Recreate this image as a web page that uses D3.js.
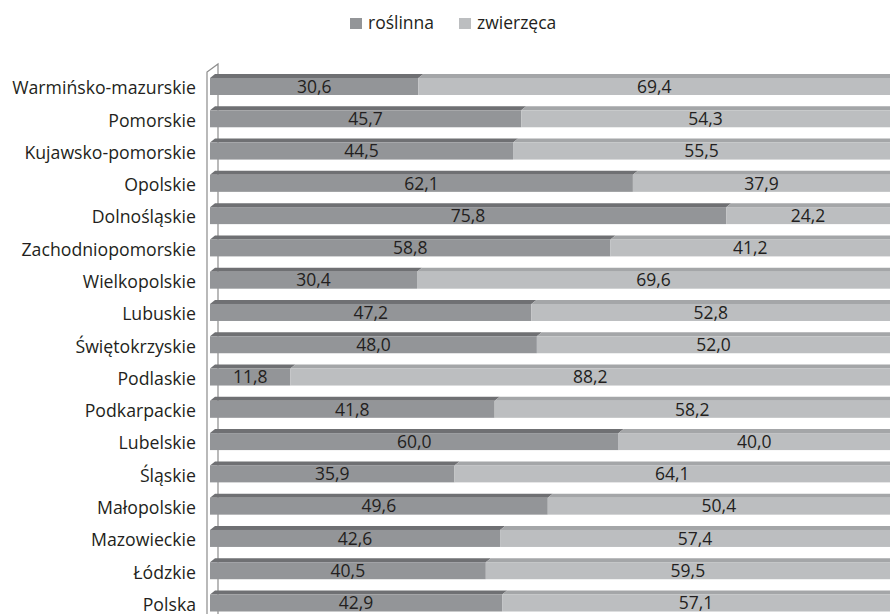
<!DOCTYPE html>
<html>
<head>
<meta charset="utf-8">
<script src="https://cdn.jsdelivr.net/npm/d3@7"></script>
<style>
    body { margin: 0; background: #ffffff; }
    svg { display: block; font-family: "Open Sans", sans-serif; }
</style>
</head>
<body>
<div class="Chart"></div>
<script>

const regions = [
    "Warmińsko-mazurskie", "Pomorskie", "Kujawsko-pomorskie", "Opolskie",
    "Dolnośląskie", "Zachodniopomorskie", "Wielkopolskie", "Lubuskie",
    "Świętokrzyskie", "Podlaskie", "Podkarpackie", "Lubelskie", "Śląskie",
    "Małopolskie", "Mazowieckie", "Łódzkie", "Polska"
];
const roslinna = [30.6, 45.7, 44.5, 62.1, 75.8, 58.8, 30.4, 47.2, 48.0, 11.8, 41.8, 60.0, 35.9, 49.6, 42.6, 40.5, 42.9];
const zwierzeca = [69.4, 54.3, 55.5, 37.9, 24.2, 41.2, 69.6, 52.8, 52.0, 88.2, 58.2, 40.0, 64.1, 50.4, 57.4, 59.5, 57.1];
const series_names = ["roślinna", "zwierzęca"];

const width = 890;
const height = 614;

const face_colors = ["#939598", "#bcbec0"];
const top_colors = ["#6f7073", "#a4a6a8"];

// 3d depth of the bar tops
const depth_h = 4;
const depth_dx = 5;
const face_h = 17;

const svg = d3.select(".Chart").append("svg")
    .attr("width", width)
    .attr("height", height);

const x = d3.scaleLinear().domain([0, 100]).range([210, 891]);
const y = d3.scalePoint().domain(regions).range([86.5, 603]);

const rows = regions.map((name, i) => ({name: name, values: [roslinna[i], zwierzeca[i]]}));

// back wall of the 3d chart
const wall = svg.append("g").attr("stroke", "#8c8c8c").attr("stroke-width", 1.2).attr("fill", "none");
wall.append("path").attr("d", `M207,${height}V72L218,64V${height}`);

const stack = d3.stack().keys([0, 1]).value((d, k) => d.values[k]);
const layers = stack(rows);

layers.forEach((layer, k) => {
    const g = svg.append("g").attr("class", "Series" + k);

    // top bevel
    g.selectAll(".Top")
        .data(layer)
        .join("path")
        .attr("class", "Top")
        .attr("fill", top_colors[k])
        .attr("d", d => {
            const y0 = y(d.data.name) - face_h / 2;
            const x0 = x(d[0]);
            const x1 = x(d[1]);
            return `M${x0},${y0}L${x0 + depth_dx},${y0 - depth_h}L${x1 + depth_dx},${y0 - depth_h}L${x1},${y0}Z`;
        });

    // front face
    g.selectAll(".Face")
        .data(layer)
        .join("rect")
        .attr("class", "Face")
        .attr("x", d => x(d[0]))
        .attr("y", d => y(d.data.name) - face_h / 2)
        .attr("width", d => x(d[1]) - x(d[0]))
        .attr("height", face_h)
        .attr("fill", face_colors[k]);
});

// value labels
layers.forEach((layer, k) => {
    svg.append("g")
        .selectAll("text")
        .data(layer)
        .join("text")
        .attr("x", d => (x(d[0]) + Math.min(x(d[1]), width)) / 2)
        .attr("y", d => y(d.data.name))
        .attr("dy", "0.36em")
        .attr("text-anchor", "middle")
        .attr("font-size", 17.5)
        .attr("fill", "#231f20")
        .text(d => d3.format(".1f")(d[1] - d[0]).replace(".", ","));
});

// category labels
svg.append("g")
    .selectAll("text")
    .data(regions)
    .join("text")
    .attr("x", 196)
    .attr("y", d => y(d) + 1.5)
    .attr("dy", "0.36em")
    .attr("text-anchor", "end")
    .attr("font-size", 17.7)
    .attr("fill", "#231f20")
    .text(d => d);

// legend
const legend = svg.append("g").attr("class", "Legend");
const legend_x = [350, 459];
series_names.forEach((name, k) => {
    legend.append("rect")
        .attr("x", legend_x[k])
        .attr("y", 18)
        .attr("width", 12)
        .attr("height", 11)
        .attr("fill", face_colors[k]);
    legend.append("text")
        .attr("x", legend_x[k] + 18)
        .attr("y", 29)
        .attr("font-size", 17.5)
        .attr("fill", "#231f20")
        .text(name);
});

</script>
</body>
</html>
